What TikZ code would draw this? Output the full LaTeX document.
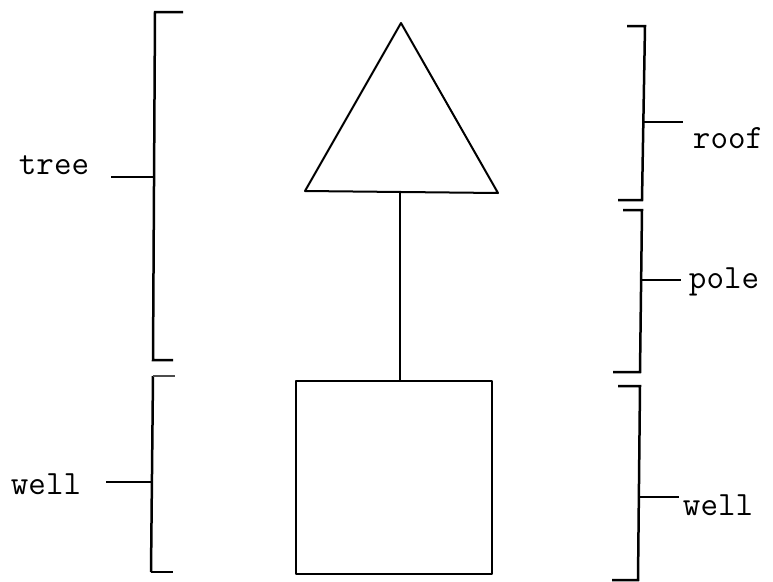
\documentclass[tikz,border=0pt]{standalone}
\usepackage{fontspec}
\usetikzlibrary{positioning}

\begin{document}
\begin{tikzpicture}[
  x=1pt, y=-1pt,
  font=\ttfamily\fontsize{34}{34}\selectfont,
  part/.style={draw=black, line width=2pt, line join=round},
  brack/.style={draw=black, line width=2.5pt},
  tick/.style={draw=black, line width=2.3pt},
  word/.style={inner sep=0pt},
]
\useasboundingbox (0,0) rectangle (773,581);

% --- the figure: roof, pole, well ---
\coordinate (apex) at (401,23);
\coordinate (baseL) at (305,191);
\coordinate (baseR) at (498,193);
\coordinate (baseM) at (400,192);
\draw[part] (apex) -- (baseL) -- (baseR) -- cycle;
\node[part, rectangle, minimum width=196pt, minimum height=193pt, inner sep=0pt]
  (box) at (393.5,477.5) {};
\draw[part] (baseM) -- (baseM |- box.north);

% --- left brackets ---
\draw[brack] (183,12) -- (155,12) -- (153,360) -- (173,360);
\coordinate (treeB) at (154,177);
\draw[brack] (151,572) -- (173,572);
\draw[brack] (153,376) -- (151,572);
\draw[draw=black!70, line width=1.2pt] (153,376) -- (175,376);
\coordinate (wellLB) at (152,482);

% --- right brackets ---
\draw[brack] (627,26) -- (645,26) -- (642,200) -- (618,200);
\coordinate (roofB) at (643,122);
\draw[brack] (623,210) -- (642,210) -- (640,372) -- (613,372);
\coordinate (poleB) at (641,280);
\draw[brack] (618,386) -- (640,386) -- (638,580) -- (612,580);
\coordinate (wellRB) at (639,497);

% --- labels ---
\node[word] (tree)  at (54,165)  {tree};
\node[word] (wellL) at (46,484)  {well};
\node[word] (roof)  at (728,138) {roof};
\node[word] (pole)  at (724,282) {pole};
\node[word] (wellR) at (718,505) {well};

% --- ticks ---
\draw[tick, shorten >=22pt] (treeB) -- (treeB -| tree.east);
\draw[tick, shorten >=25pt] (wellLB) -- (wellLB -| wellL.east);
\draw[tick, shorten >=10pt] (roofB) -- (roofB -| roof.west);
\draw[tick, shorten >=8pt] (poleB) -- (poleB -| pole.west);
\draw[tick, shorten >=4pt] (wellRB) -- (wellRB -| wellR.west);

\end{tikzpicture}
\end{document}
